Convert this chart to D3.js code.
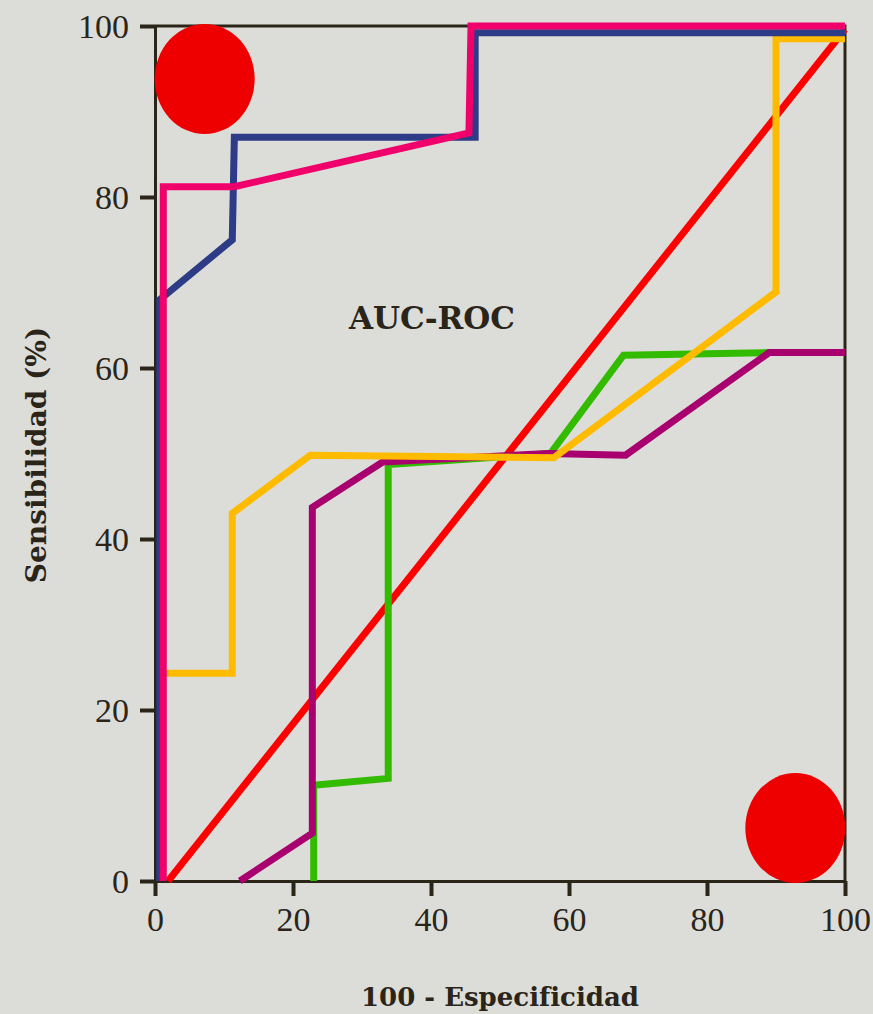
<!DOCTYPE html>
<html lang="es">
<head>
<meta charset="UTF-8">
<title>AUC-ROC</title>
<script src="https://cdn.jsdelivr.net/npm/d3@7"></script>
<style>
    html, body {
        margin: 0;
        padding: 0;
        background: #dcddd9;
    }
    svg {
        display: block;
    }
    .tick-label {
        font-family: "Liberation Serif", serif;
        font-size: 34px;
        fill: #2b2519;
    }
    .title {
        font-family: "DejaVu Serif", serif;
        font-weight: bold;
        fill: #2b2519;
    }
</style>
</head>
<body>
<svg id="chart" width="873" height="1014"></svg>
<script>
    // valores (x = 100 - especificidad, y = sensibilidad)
    var xTicks = [0, 20, 40, 60, 80, 100]
    var yTicks = [0, 20, 40, 60, 80, 100]

    var navy = [[0.7, 0], [0.7, 68], [11.2, 75], [11.5, 87], [46.4, 87], [46.4, 99.2], [100, 99.2]]
    var pink = [[1.2, 0], [1.2, 81.2], [11.5, 81.2], [45.5, 87.5], [45.8, 100], [100, 100]]
    var yellow = [[1.2, 24.3], [11.2, 24.3], [11.2, 43], [22.5, 49.8], [57.8, 49.5], [90, 68.9], [90, 98.5], [100, 98.5]]
    var green = [[23, 0], [23, 11.2], [33.8, 12], [33.8, 48.7], [57.3, 50], [67.9, 61.5], [89, 61.8]]
    var purple = [[12.3, 0], [22.8, 5.6], [22.8, 43.7], [33, 49], [57, 50], [68.2, 49.8], [89, 61.8], [100, 61.8]]
    var diagonal = [[1.9, 0], [100, 99.6]]
    var markers = [[7.2, 93.8], [92.8, 6.2]]

    var series = [
        {data: diagonal, color: '#ff0000'},
        {data: green, color: '#33bb00'},
        {data: purple, color: '#a8006e'},
        {data: yellow, color: '#ffbb00'},
        {data: navy, color: '#2e3b86'},
        {data: pink, color: '#f0006a'}
    ]

    var svg = d3.select('#chart')
    var mLeft = 155, mRight = 845, mTop = 26, mBottom = 881
    var x = d3.scaleLinear().domain([0, 100]).range([mLeft, mRight])
    var y = d3.scaleLinear().domain([0, 100]).range([mBottom, mTop])
    var ink = '#2b2519'

    // marco superior y derecho
    svg.append('path')
        .attr('d', 'M' + mLeft + ',' + mTop + 'H' + mRight + 'V' + mBottom)
        .attr('fill', 'none')
        .attr('stroke', ink)
        .attr('stroke-width', 3)

    var xAxis = svg.append('g')
        .attr('transform', 'translate(0,' + mBottom + ')')
        .call(d3.axisBottom(x).tickValues(xTicks).tickSize(15).tickSizeOuter(0))
    var yAxis = svg.append('g')
        .attr('transform', 'translate(' + mLeft + ',0)')
        .call(d3.axisLeft(y).tickValues(yTicks).tickSize(15).tickSizeOuter(0))

    ;[xAxis, yAxis].forEach(function (g) {
        g.select('.domain').attr('stroke', ink).attr('stroke-width', 3)
        g.selectAll('.tick line').attr('stroke', ink).attr('stroke-width', 4)
        g.selectAll('.tick text').attr('class', 'tick-label').attr('font-size', null).attr('font-family', null).attr('fill', null)
    })
    xAxis.selectAll('.tick text').attr('dy', '0.3em').attr('y', 40)
    yAxis.selectAll('.tick text').attr('x', -26).attr('dy', '0.35em')

    var line = d3.line().x(function (d) { return x(d[0]) }).y(function (d) { return y(d[1]) })

    svg.append('g').selectAll('path')
        .data(series)
        .join('path')
        .attr('d', function (s) { return line(s.data) })
        .attr('fill', 'none')
        .attr('stroke', function (s) { return s.color })
        .attr('stroke-width', 7)
        .attr('stroke-linejoin', 'miter')

    svg.append('g').selectAll('ellipse')
        .data(markers)
        .join('ellipse')
        .attr('cx', function (d) { return x(d[0]) })
        .attr('cy', function (d) { return y(d[1]) })
        .attr('rx', 50)
        .attr('ry', 55)
        .attr('fill', '#ee0000')

    svg.append('text')
        .attr('class', 'title')
        .attr('x', 432)
        .attr('y', 329)
        .attr('text-anchor', 'middle')
        .attr('font-size', 31)
        .text('AUC-ROC')

    svg.append('text')
        .attr('class', 'title')
        .attr('x', 500)
        .attr('y', 1006)
        .attr('text-anchor', 'middle')
        .attr('font-size', 26)
        .text('100 - Especificidad')

    svg.append('text')
        .attr('class', 'title')
        .attr('transform', 'translate(46,455) rotate(-90)')
        .attr('text-anchor', 'middle')
        .attr('font-size', 28)
        .text('Sensibilidad (%)')
</script>
</body>
</html>
